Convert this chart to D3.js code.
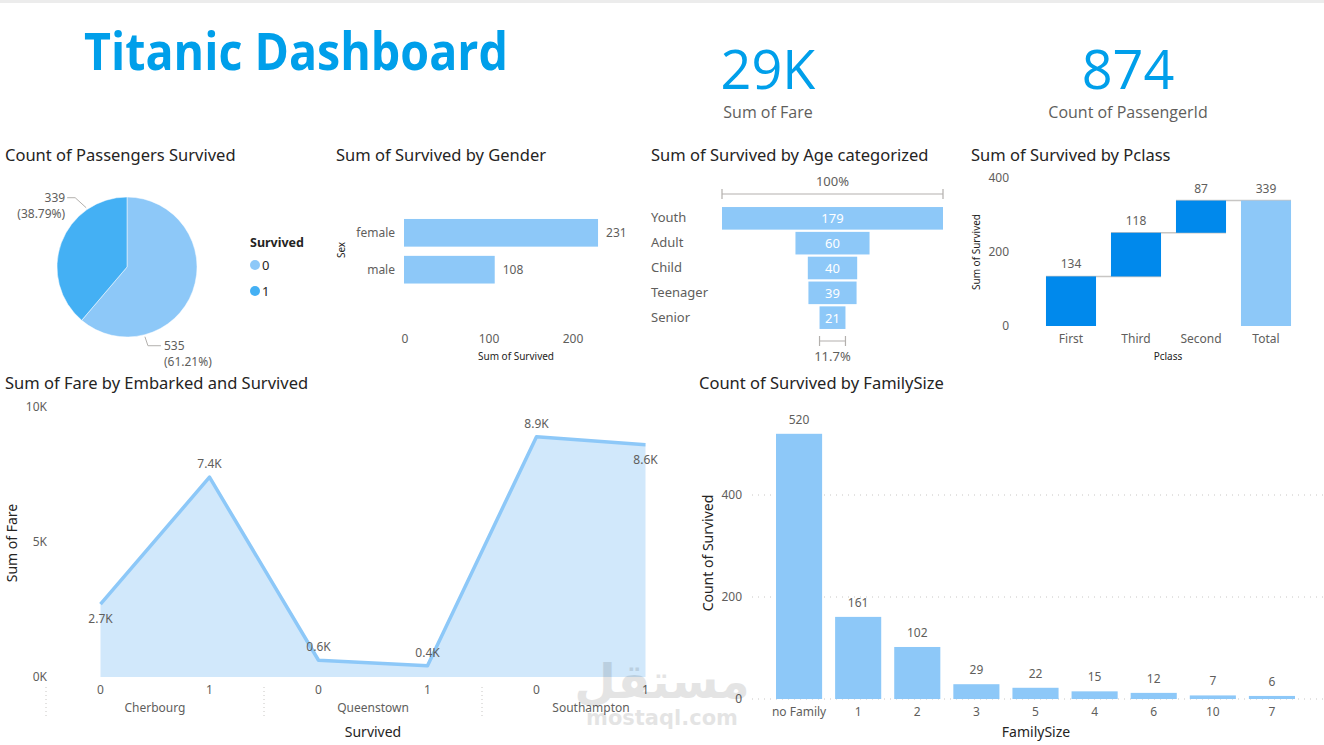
<!DOCTYPE html>
<html><head><meta charset="utf-8">
<script src="https://cdn.jsdelivr.net/npm/d3@7"></script>
<style>
body{margin:0;background:#fff;}
svg{display:block;font-family:'Noto Sans',sans-serif;}
</style>
</head><body>
<svg id="c" width="1324" height="745"></svg>
<script>
// ---------- DATA ----------
const dashboardTitle = "Titanic Dashboard";
const kpiValues = ["29K", "874"];
const kpiLabels = ["Sum of Fare", "Count of PassengerId"];

const survivedCats = ["0", "1"];
const survivedCounts = [535, 339];
const survivedPcts = ["61.21%", "38.79%"];

const genders = ["female", "male"];
const genderSurvived = [231, 108];
const genderTicks = [0, 100, 200];

const ageCats = ["Youth", "Adult", "Child", "Teenager", "Senior"];
const ageSurvived = [179, 60, 40, 39, 21];

const pclassCats = ["First", "Third", "Second", "Total"];
const pclassSurvived = [134, 118, 87];
const pclassTicks = [0, 200, 400];

const embarkedPorts = ["Cherbourg", "Queenstown", "Southampton"];
const survivedFlags = ["0", "1"];
const fareBySurvived = [2700, 7400, 620, 420, 8900, 8600];
const fareTicks = [0, 5000, 10000];

const familySizes = ["no Family", "1", "2", "3", "5", "4", "6", "10", "7"];
const familyCounts = [520, 161, 102, 29, 22, 15, 12, 7, 6];
const familyTicks = [0, 200, 400];

// ---------- STYLE ----------
const BLUE = "#009FEA", LIGHT = "#8DC8F8", DARK1 = "#44B0F4", INC = "#0089EC", AREA = "#D1E8FB";
const TITLE_C = "#252423", TICK_C = "#605E5C";

const svg = d3.select("#c");
svg.append("rect").attr("width", 1324).attr("height", 3).attr("fill", "#ECECEC");

// Header
svg.append("text").attr("x", 84).attr("y", 70).attr("fill", BLUE)
  .attr("font-family", "'Open Sans',sans-serif").attr("font-weight", 700).attr("font-size", 52)
  .attr("textLength", 424).attr("lengthAdjust", "spacingAndGlyphs").text(dashboardTitle);
const kpiX = [768, 1128];
kpiValues.forEach((v, i) => {
  svg.append("text").attr("x", kpiX[i]).attr("y", 89).attr("text-anchor", "middle").attr("fill", BLUE)
    .attr("font-size", 54).attr("font-family", "'Open Sans',sans-serif").attr("font-weight", 400).text(v);
  svg.append("text").attr("x", kpiX[i]).attr("y", 118).attr("text-anchor", "middle").attr("fill", TICK_C)
    .attr("font-size", 16).attr("font-family", "'Open Sans',sans-serif").text(kpiLabels[i]);
});

function title(x, y, t) {
  svg.append("text").attr("x", x).attr("y", y).attr("fill", TITLE_C).attr("font-size", 16.5).text(t);
}
title(5, 161, "Count of Passengers Survived");
title(336, 161, "Sum of Survived by Gender");
title(651, 161, "Sum of Survived by Age categorized");
title(971, 161, "Sum of Survived by Pclass");
title(5, 389, "Sum of Fare by Embarked and Survived");
title(699, 389, "Count of Survived by FamilySize");

function txt(g, x, y, t, opt = {}) {
  return g.append("text").attr("x", x).attr("y", y).attr("fill", opt.fill || TICK_C)
    .attr("font-size", opt.size || 12).attr("text-anchor", opt.anchor || "start")
    .attr("font-weight", opt.weight || 400).text(t);
}

// ---------- PIE ----------
{
  const g = svg.append("g").attr("transform", "translate(127,267)");
  const pie = d3.pie().sort(null).value(d => d)(survivedCounts);
  const arc = d3.arc().innerRadius(0).outerRadius(70);
  const colors = [LIGHT, DARK1];
  g.selectAll("path").data(pie).join("path").attr("d", arc).attr("fill", (d, i) => colors[i])
    .attr("stroke", "#fff").attr("stroke-width", 0.5);
  const leaderAngles = [2.89, 5.68];
  pie.forEach((d, i) => {
    const a = leaderAngles[i];
    const p0 = [72 * Math.sin(a), -72 * Math.cos(a)];
    const p1 = i === 0 ? [p0[0] + 3, p0[1] + 9] : [p0[0] - 11, p0[1] - 10];
    const p2 = i === 0 ? [p1[0] + 13, p1[1]] : [p1[0] - 8, p1[1]];
    g.append("polyline").attr("points", [p0, p1, p2].map(p => p.join(",")).join(" "))
      .attr("fill", "none").attr("stroke", "#B3B0AD").attr("stroke-width", 1);
    const anchor = i === 0 ? "start" : "end";
    const x = i === 0 ? p2[0] + 3 : p2[0] - 2;
    txt(g, x, p2[1] + 4, survivedCounts[i], { anchor });
    txt(g, x, p2[1] + 20, "(" + survivedPcts[i] + ")", { anchor });
  });
  txt(svg, 250, 247, "Survived", { fill: TITLE_C, size: 12.5, weight: 700 });
  survivedCats.forEach((c, i) => {
    svg.append("circle").attr("cx", 255).attr("cy", 265 + i * 26).attr("r", 5).attr("fill", colors[i]);
    txt(svg, 262, 270 + i * 26, c, { fill: TITLE_C, size: 13 });
  });
}

// ---------- GENDER BAR ----------
{
  const x = d3.scaleLinear().domain([0, 200]).range([404, 572]);
  const y = d3.scaleBand().domain(genders).range([209.75, 292.75]).padding(0.25);
  svg.append("g").selectAll("rect").data(genders).join("rect")
    .attr("x", x(0)).attr("y", d => y(d)).attr("height", y.bandwidth())
    .attr("width", (d, i) => x(genderSurvived[i]) - x(0)).attr("fill", LIGHT);
  genders.forEach((d, i) => {
    txt(svg, 395, y(d) + y.bandwidth() / 2 + 4, d, { anchor: "end" });
    txt(svg, x(genderSurvived[i]) + 8, y(d) + y.bandwidth() / 2 + 4, genderSurvived[i]);
  });
  genderTicks.forEach(t => txt(svg, x(t) + 1, 343, t, { anchor: "middle" }));
  txt(svg, 516, 360, "Sum of Survived", { anchor: "middle", size: 10, fill: TITLE_C });
  txt(svg, 0, 0, "Sex", { anchor: "middle", size: 10, fill: TITLE_C })
    .attr("transform", "translate(345,250) rotate(-90)");
}

// ---------- FUNNEL ----------
{
  const w = d3.scaleLinear().domain([0, d3.max(ageSurvived)]).range([0, 221]);
  const cx = 832.5;
  const y = d3.scaleBand().domain(ageCats).range([204.8, 331.2]).padding(0.09);
  ageCats.forEach((c, i) => {
    const bw = w(ageSurvived[i]);
    svg.append("rect").attr("x", cx - bw / 2).attr("y", y(c)).attr("width", bw).attr("height", y.bandwidth()).attr("fill", LIGHT);
    txt(svg, cx, y(c) + y.bandwidth() / 2 + 5, ageSurvived[i], { anchor: "middle", fill: "#fff", size: 13 });
    txt(svg, 651, y(c) + y.bandwidth() / 2 + 4, c, { size: 13 });
  });
  const bracket = (x0, x1, yy) => {
    svg.append("path").attr("d", `M${x0},${yy - 5}V${yy + 5}M${x0},${yy}H${x1}M${x1},${yy - 5}V${yy + 5}`)
      .attr("stroke", "#B3B0AD").attr("fill", "none").attr("stroke-width", 1.2);
  };
  const top = w(ageSurvived[0]), bot = w(ageSurvived[ageSurvived.length - 1]);
  bracket(cx - top / 2, cx + top / 2, 194);
  bracket(cx - bot / 2, cx + bot / 2, 341);
  txt(svg, cx, 186, "100%", { anchor: "middle", size: 13 });
  const pct = (ageSurvived[ageSurvived.length - 1] / ageSurvived[0] * 100).toFixed(1) + "%";
  txt(svg, cx, 361, pct, { anchor: "middle", size: 13 });
}

// ---------- WATERFALL ----------
{
  const y = d3.scaleLinear().domain([0, 400]).range([326, 178]);
  const x = d3.scaleBand().domain(pclassCats).range([1038.5, 1298.5]).paddingInner(0.23).paddingOuter(0.115);
  let cum = 0;
  const steps = pclassSurvived.map((v, i) => { const s = { c: pclassCats[i], y0: cum, y1: cum + v, v }; cum += v; return s; });
  steps.push({ c: "Total", y0: 0, y1: cum, v: cum, total: true });
  steps.forEach((s, i) => {
    if (i < steps.length - 1) {
      svg.append("line").attr("x1", x(s.c)).attr("x2", x(steps[i + 1].c) + x.bandwidth())
        .attr("y1", y(s.y1)).attr("y2", y(s.y1)).attr("stroke", "#C8C6C4").attr("stroke-width", 1.5);
    }
  });
  steps.forEach((s, i) => {
    svg.append("rect").attr("x", x(s.c)).attr("y", y(s.y1)).attr("width", x.bandwidth())
      .attr("height", y(s.y0) - y(s.y1)).attr("fill", s.total ? LIGHT : INC);
    txt(svg, x(s.c) + x.bandwidth() / 2, y(s.y1) - 8, s.v, { anchor: "middle" });
    txt(svg, x(s.c) + x.bandwidth() / 2, 343, s.c, { anchor: "middle" });
  });
  pclassTicks.forEach(t => txt(svg, 1009, y(t) + 4, t, { anchor: "end" }));
  txt(svg, 0, 0, "Sum of Survived", { anchor: "middle", size: 10, fill: TITLE_C })
    .attr("transform", "translate(980,252) rotate(-90)");
  txt(svg, 1168, 360, "Pclass", { anchor: "middle", size: 10, fill: TITLE_C });
}

// ---------- AREA ----------
{
  const y = d3.scaleLinear().domain([0, 10000]).range([677, 407]);
  const gx = d3.scaleBand().domain(embarkedPorts).range([46, 700]);
  const sx = d3.scalePoint().domain(survivedFlags).range([0, gx.bandwidth()]).padding(0.5);
  const pts = [];
  embarkedPorts.forEach((p, i) => survivedFlags.forEach((f, j) => {
    pts.push({ x: gx(p) + sx(f), v: fareBySurvived[i * 2 + j], f });
  }));
  svg.append("path").datum(pts).attr("fill", AREA)
    .attr("d", d3.area().x(d => d.x).y0(y(0)).y1(d => y(d.v)));
  svg.append("path").datum(pts).attr("fill", "none").attr("stroke", LIGHT).attr("stroke-width", 3.5)
    .attr("stroke-linejoin", "round").attr("d", d3.line().x(d => d.x).y(d => y(d.v)));
  const fmt = v => (v / 1000).toFixed(1) + "K";
  const below = [true, false, false, false, false, true];
  pts.forEach((d, i) => {
    txt(svg, d.x, below[i] ? y(d.v) + 19 : y(d.v) - 9, fmt(d.v), { anchor: "middle" });
    txt(svg, d.x, 694, d.f, { anchor: "middle" });
  });
  embarkedPorts.forEach(p => txt(svg, gx(p) + gx.bandwidth() / 2, 712, p, { anchor: "middle" }));
  embarkedPorts.forEach(p => svg.append("line").attr("x1", gx(p)).attr("x2", gx(p)).attr("y1", 687).attr("y2", 718)
    .attr("stroke", "#C8C6C4").attr("stroke-dasharray", "1,3"));
  fareTicks.forEach(t => txt(svg, 47, y(t) + 4, (t / 1000) + "K", { anchor: "end" }));
  txt(svg, 0, 0, "Sum of Fare", { anchor: "middle", size: 14, fill: TITLE_C })
    .attr("transform", "translate(17,543) rotate(-90)");
  txt(svg, 373, 737, "Survived", { anchor: "middle", size: 14, fill: TITLE_C });
}

// ---------- FAMILY SIZE ----------
{
  const y = d3.scaleLinear().domain([0, 400]).range([699, 495]);
  const x = d3.scaleBand().domain(familySizes).range([769.5, 1301.5]).paddingInner(0.22).paddingOuter(0.11);
  familyTicks.forEach(t => {
    svg.append("line").attr("x1", 752).attr("x2", 1324).attr("y1", y(t)).attr("y2", y(t))
      .attr("stroke", "#C8C6C4").attr("stroke-dasharray", "1,5");
    txt(svg, 742, y(t) + 4, t, { anchor: "end" });
  });
  familySizes.forEach((c, i) => {
    svg.append("rect").attr("x", x(c)).attr("y", y(familyCounts[i])).attr("width", x.bandwidth())
      .attr("height", y(0) - y(familyCounts[i])).attr("fill", LIGHT);
    txt(svg, x(c) + x.bandwidth() / 2, y(familyCounts[i]) - 10, familyCounts[i], { anchor: "middle" });
    txt(svg, x(c) + x.bandwidth() / 2, 716, c, { anchor: "middle" });
  });
  txt(svg, 0, 0, "Count of Survived", { anchor: "middle", size: 14, fill: TITLE_C })
    .attr("transform", "translate(713,553) rotate(-90)");
  txt(svg, 1036, 737, "FamilySize", { anchor: "middle", size: 14, fill: TITLE_C });
}

// ---------- WATERMARK ----------
svg.append("text").attr("x", 662).attr("y", 698).attr("text-anchor", "middle").attr("fill", "#000").attr("opacity", 0.1)
  .attr("font-family", "'DejaVu Sans',sans-serif").attr("font-weight", 700).attr("font-size", 48).text("مستقل");
svg.append("text").attr("x", 662).attr("y", 725).attr("text-anchor", "middle").attr("fill", "#000").attr("opacity", 0.1)
  .attr("font-family", "'DejaVu Sans',sans-serif").attr("font-weight", 700).attr("font-size", 21).text("mostaql.com");
</script>
</body></html>
